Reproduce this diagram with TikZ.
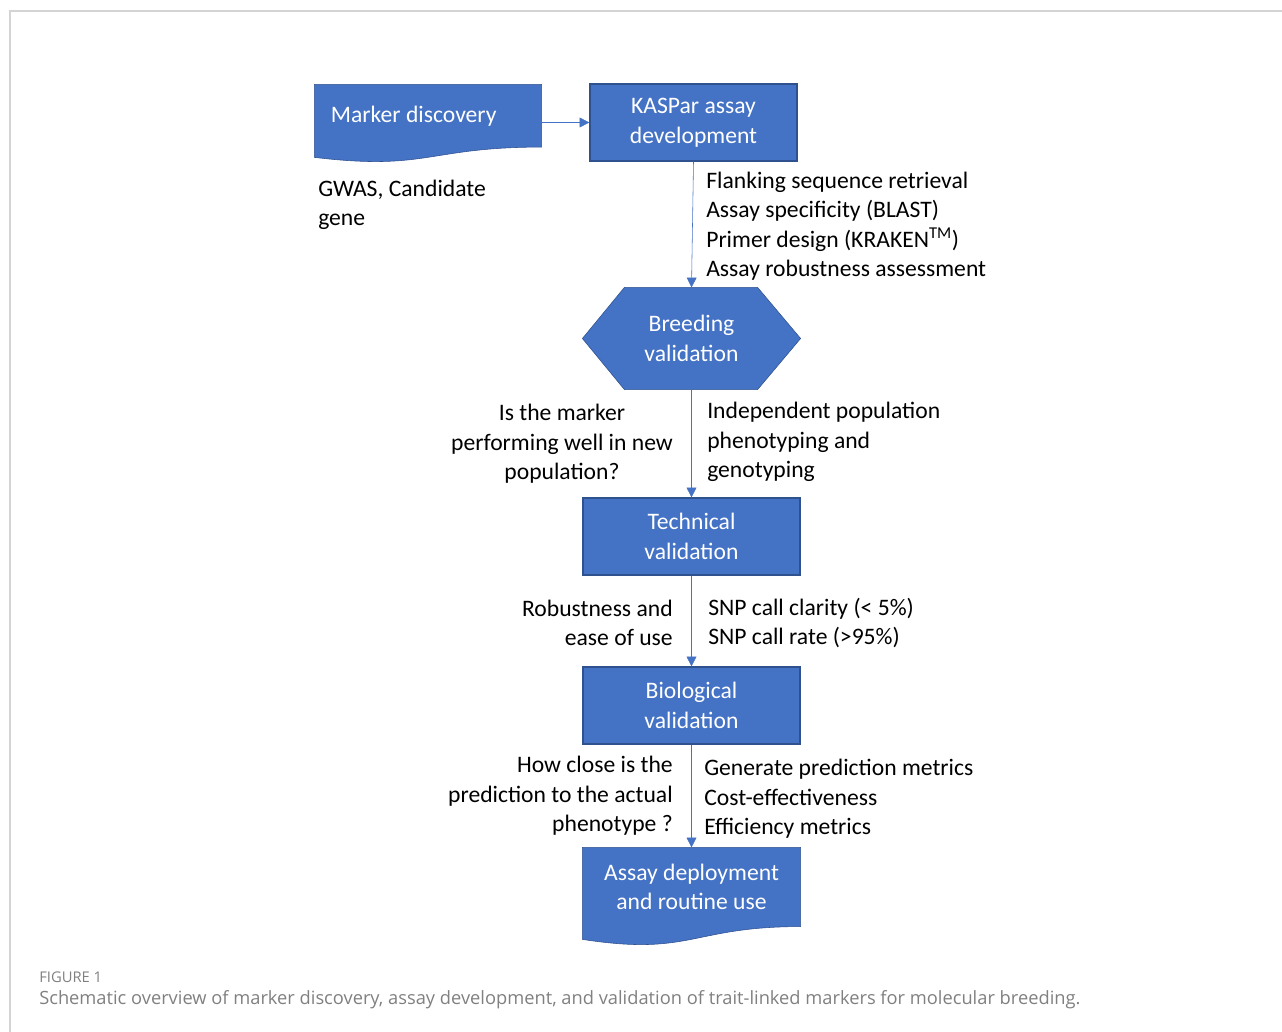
\documentclass[tikz,border=0pt]{standalone}
\usepackage{fontspec}
\setmainfont{Carlito}
\newfontfamily\capfont{Open Sans}
\usetikzlibrary{positioning,arrows.meta,backgrounds,calc}

\definecolor{boxblue}{HTML}{4472C4}
\definecolor{boxedge}{HTML}{2F528F}
\definecolor{capgray}{HTML}{808080}
\definecolor{framegray}{HTML}{D4D4D4}

\begin{document}
\begin{tikzpicture}[
      x=0.025cm, y=-0.025cm,
      inner sep=0pt,
      line width=.8pt,
      txt/.style={font=\fontsize{16.8}{21}\selectfont},
      stepbox/.style={txt, draw=boxedge, fill=boxblue, text=white, align=center},
      hidden/.style={txt, text=white, align=center},
      shapefill/.style={draw=boxedge, fill=boxblue},
      flow/.style={draw=boxblue, -{Triangle[length=7pt,width=7pt]}},
      note/.style={txt, text=black}]

    % page & frame
    \useasboundingbox (0,0) rectangle (1282,1032);
    \draw[framegray, line width=1pt] (10,1032) -- (10,11) -- (1282,11);

    % top row y=115
    \node (mdisc) at (428,116.5) [hidden, align=flush left, minimum width=5.65cm,
      minimum height=1.5cm, text width=4.85cm] {Marker discovery};
    \node (kaspar) at (693.5,122.5) [stepbox, minimum width=5.175cm,
      minimum height=1.925cm] {\rule{0pt}{4.5pt}KASPar assay\\development};

    % main column x=691
    \node (breeding) at (691.5,338.5) [hidden, minimum width=5.425cm,
      minimum height=2.525cm] {Breeding\\validation};
    \node (technical) at (691.5,536.5) [stepbox, minimum width=5.425cm,
      minimum height=1.925cm] {Technical\\validation};
    \node (biological) at (691.5,705.5) [stepbox, minimum width=5.425cm,
      minimum height=1.925cm] {Biological\\validation};
    \node (deploy) at (691.5,887) [hidden, minimum width=5.425cm,
      minimum height=1.95cm] {Assay deployment\\and routine use};

    % shapes behind the text
    \begin{pgfonlayer}{background}
      \draw[shapefill] ($(mdisc.north west)+(0,-1.5)$) -- ($(mdisc.north east)+(0,-1.5)$)
        -- (mdisc.south east)
        .. controls (mdisc.south) and ($(mdisc.south)+(0,23.9)$) ..
        ($(mdisc.south west)+(0,10.3)$) -- cycle;
      \draw[shapefill] ($(breeding.north west)+(42,0)$) -- ($(breeding.north east)+(-43,0)$)
        -- (breeding.east) -- ($(breeding.south east)+(-43,0)$)
        -- ($(breeding.south west)+(42,0)$) -- (breeding.west) -- cycle;
      \draw[shapefill] (deploy.north west) -- (deploy.north east) -- (deploy.south east)
        .. controls (deploy.south) and ($(deploy.south)+(0,29.7)$) ..
        ($(deploy.south west)+(0,12.8)$) -- cycle;
    \end{pgfonlayer}

    % notes
    \node (gwas) at (318,205) [note, anchor=west, align=left] {GWAS, Candidate\\gene};
    \node (kasparnotes) at (706,226) [note, anchor=west, align=left]
      {Flanking sequence retrieval\\Assay specificity (BLAST)\\
       Primer design (KRAKEN\textsuperscript{TM})\\Assay robustness assessment};
    \node (breedq) at (562,444) [note, align=center]
      {Is the marker\\performing well in new\\population?};
    \node (breednotes) at (707,442) [note, anchor=west, align=left]
      {Independent population\\phenotyping and\\genotyping};
    \node (techq) at (673,623) [note, anchor=east, align=right]
      {Robustness and\\ease of use};
    \node (technotes) at (708,623) [note, anchor=west, align=left]
      {SNP call clarity (< 5\%)\\SNP call rate (>95\%)};
    \node (bioq) at (673,796) [note, anchor=east, align=right]
      {How close is the\\prediction to the actual\\phenotype ?};
    \node (bionotes) at (704,799) [note, anchor=west, align=left]
      {Generate prediction metrics\\Cost-effectiveness\\Efficiency metrics};

    % wiring
    \draw[flow] (mdisc.east |- kaspar) -- (kaspar.west);
    \draw[flow] (kaspar.south) -- (breeding.north);
    \draw[flow] (breeding.south) -- (technical.north);
    \draw[flow] (technical.south) -- (biological.north);
    \draw[flow] (biological.south) -- (deploy.north);

    % caption
    \node (figlabel) at (39,977) [anchor=west, text=capgray,
      font=\capfont\fontsize{10.5}{12}\selectfont] {FIGURE 1};
    \node (caption) at (39,1000) [anchor=west, text=capgray,
      font=\capfont\fontsize{13}{15}\selectfont]
      {Schematic overview of marker discovery, assay development, and validation of trait-linked markers for molecular breeding.};

  \end{tikzpicture}
\end{document}
